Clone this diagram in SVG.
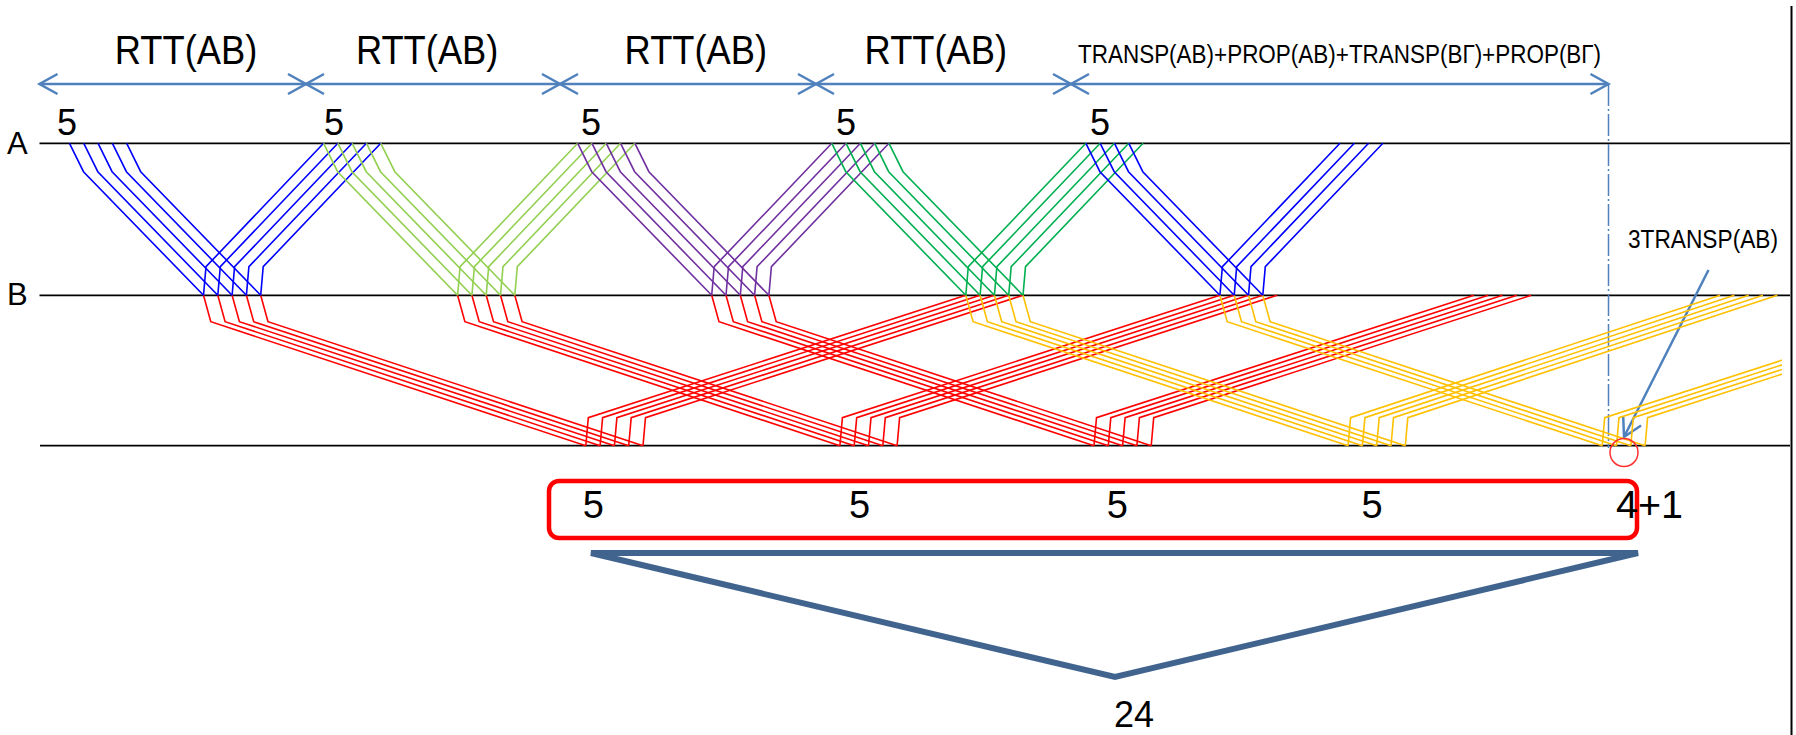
<svg xmlns="http://www.w3.org/2000/svg" xmlns:xlink="http://www.w3.org/1999/xlink" width="1796" height="735" viewBox="0 0 1796 735">
<style>
  text{font-family:"Liberation Sans",Arial,sans-serif;fill:#000}
  .ax{stroke:#000;stroke-width:1.8}
  .pk{fill:none;stroke-width:1.6;stroke-linejoin:miter}
  .dim{stroke:#4F81BD;stroke-width:2.5;fill:none}
  .rtt{font-size:40px}
  .five{font-size:36px;text-anchor:middle}
  .cnt{font-size:38px;text-anchor:middle}
</style>
<defs>
  <marker id="chev" markerUnits="userSpaceOnUse" markerWidth="30" markerHeight="30" refX="0" refY="0" orient="auto-start-reverse" overflow="visible">
    <path d="M-18,-10 L0,0 L-18,10" fill="none" stroke="#4F81BD" stroke-width="2.5"/>
  </marker>
  <clipPath id="clipR"><rect x="0" y="0" width="1782" height="735"/></clipPath>
  <path id="dAB" class="pk" d="M0,0 L14,28.4 L134,152"/>
  <path id="aBA" class="pk" d="M0,0 L2.5,-28.6 L120.1,-152"/>
  <path id="dBG" class="pk" d="M0,0 L7.3,26.4 L382.3,150.4"/>
  <path id="aGB" class="pk" d="M0,0 L2.5,-28 L380,-150.4"/>
  <path id="aGBy" class="pk" d="M0,0 L2.5,-28 L372,-150.4"/>
  <g id="b5dAB"><use href="#dAB"/><use href="#dAB" x="14.3"/><use href="#dAB" x="28.6"/><use href="#dAB" x="42.9"/><use href="#dAB" x="57.2"/></g>
  <g id="b4dAB"><use href="#dAB"/><use href="#dAB" x="14.3"/><use href="#dAB" x="28.6"/><use href="#dAB" x="42.9"/></g>
  <g id="b5aBA"><use href="#aBA"/><use href="#aBA" x="14.3"/><use href="#aBA" x="28.6"/><use href="#aBA" x="42.9"/><use href="#aBA" x="57.2"/></g>
  <g id="b4aBA"><use href="#aBA"/><use href="#aBA" x="14.3"/><use href="#aBA" x="28.6"/><use href="#aBA" x="42.9"/></g>
  <g id="b5dBG"><use href="#dBG"/><use href="#dBG" x="14.3"/><use href="#dBG" x="28.6"/><use href="#dBG" x="42.9"/><use href="#dBG" x="57.2"/></g>
  <g id="b4dBG"><use href="#dBG"/><use href="#dBG" x="14.3"/><use href="#dBG" x="28.6"/><use href="#dBG" x="42.9"/></g>
  <g id="b5aGB"><use href="#aGB"/><use href="#aGB" x="14.3"/><use href="#aGB" x="28.6"/><use href="#aGB" x="42.9"/><use href="#aGB" x="57.2"/></g>
  <g id="b5aGBy"><use href="#aGBy"/><use href="#aGBy" x="14.3"/><use href="#aGBy" x="28.6"/><use href="#aGBy" x="42.9"/><use href="#aGBy" x="57.2"/></g>
  <g id="b4aGB"><use href="#aGB"/><use href="#aGB" x="14.3"/><use href="#aGB" x="28.6"/><use href="#aGB" x="42.9"/></g>
</defs>

<g id="axes">
  <line class="ax" x1="39.5" y1="143.3" x2="1790" y2="143.3"/>
  <line class="ax" x1="39.5" y1="295.3" x2="1790" y2="295.3"/>
  <line class="ax" x1="40" y1="445.7" x2="1790" y2="445.7"/>
  <line x1="1791.5" y1="6" x2="1791.5" y2="735" stroke="#000" stroke-width="2"/>
  <text x="7" y="154" font-size="31">A</text>
  <text x="7" y="305" font-size="31">B</text>
</g>

<g id="timing-labels">
  <text class="rtt" x="114.8" y="64" textLength="142.5" lengthAdjust="spacingAndGlyphs">RTT(AB)</text>
  <text class="rtt" x="355.9" y="64" textLength="142.5" lengthAdjust="spacingAndGlyphs">RTT(AB)</text>
  <text class="rtt" x="624.6" y="64" textLength="142.5" lengthAdjust="spacingAndGlyphs">RTT(AB)</text>
  <text class="rtt" x="864.6" y="64" textLength="142.5" lengthAdjust="spacingAndGlyphs">RTT(AB)</text>
  <text x="1078" y="63" font-size="25" textLength="523" lengthAdjust="spacingAndGlyphs">TRANSP(AB)+PROP(AB)+TRANSP(BГ)+PROP(BГ)</text>
  <text class="five" x="67" y="135">5</text>
  <text class="five" x="334" y="135">5</text>
  <text class="five" x="591" y="135">5</text>
  <text class="five" x="846" y="135">5</text>
  <text class="five" x="1100" y="135">5</text>
</g>

<g id="connectors">
  <g id="dimension-arrows" class="dim">
    <line x1="39.5" y1="84" x2="306" y2="84" marker-start="url(#chev)" marker-end="url(#chev)"/>
    <line x1="306" y1="84" x2="560" y2="84" marker-start="url(#chev)" marker-end="url(#chev)"/>
    <line x1="560" y1="84" x2="816" y2="84" marker-start="url(#chev)" marker-end="url(#chev)"/>
    <line x1="816" y1="84" x2="1071" y2="84" marker-start="url(#chev)" marker-end="url(#chev)"/>
    <line x1="1071" y1="84" x2="1608.5" y2="84" marker-start="url(#chev)" marker-end="url(#chev)"/>
  </g>
  <line id="dashed-marker" x1="1608.5" y1="84" x2="1608.5" y2="448" stroke="#4F81BD" stroke-width="1.5" stroke-dasharray="22 3 2 3"/>
  <line id="pointer" class="dim" x1="1708.5" y1="270" x2="1624" y2="437" marker-end="url(#chev)"/>
</g>

<g id="link-BG">
  <g id="bg-red">
    <use href="#b5dBG" x="203.5" y="295.3" stroke="#FF0000"/>
    <use href="#b5dBG" x="457.6" y="295.3" stroke="#FF0000"/>
    <use href="#b5dBG" x="711.7" y="295.3" stroke="#FF0000"/>
    <use href="#b5aGB" x="585.8" y="445.7" stroke="#FF0000"/>
    <use href="#b5aGB" x="839.9" y="445.7" stroke="#FF0000"/>
    <use href="#b5aGB" x="1094" y="445.7" stroke="#FF0000"/>
  </g>
  <g id="bg-yellow" clip-path="url(#clipR)">
    <use href="#b5dBG" x="965.8" y="295.3" stroke="#FFC000"/>
    <use href="#b4dBG" x="1219.9" y="295.3" stroke="#FFC000"/>
    <use href="#b5aGBy" x="1348.1" y="445.7" stroke="#FFC000"/>
    <use href="#b4aGB" x="1602.2" y="445.7" stroke="#FFC000"/>
  </g>
</g>

<g id="group-blue-1">
  <use href="#b5dAB" x="69.5" y="143.3" stroke="#0000FF"/>
  <use href="#b5aBA" x="203.5" y="295.3" stroke="#0000FF"/>
</g>
<g id="group-lightgreen">
  <use href="#b5dAB" x="323.6" y="143.3" stroke="#92D050"/>
  <use href="#b5aBA" x="457.6" y="295.3" stroke="#92D050"/>
</g>
<g id="group-purple">
  <use href="#b5dAB" x="577.7" y="143.3" stroke="#7030A0"/>
  <use href="#b5aBA" x="711.7" y="295.3" stroke="#7030A0"/>
</g>
<g id="group-darkgreen">
  <use href="#b5dAB" x="831.8" y="143.3" stroke="#00B050"/>
  <use href="#b5aBA" x="965.8" y="295.3" stroke="#00B050"/>
</g>
<g id="group-blue-2">
  <use href="#b4dAB" x="1085.9" y="143.3" stroke="#0000FF"/>
  <use href="#b4aBA" x="1219.9" y="295.3" stroke="#0000FF"/>
</g>

<g id="note-3transp">
  <text x="1628" y="248" font-size="25" textLength="150" lengthAdjust="spacingAndGlyphs">3TRANSP(AB)</text>
  <circle cx="1624" cy="452.5" r="14" fill="none" stroke="#FF3030" stroke-width="1.5"/>
</g>

<g id="count-box">
  <rect x="549" y="481" width="1088" height="57" rx="10" fill="none" stroke="#FF0000" stroke-width="4.5"/>
  <text class="cnt" x="593.4" y="518">5</text>
  <text class="cnt" x="859.5" y="518">5</text>
  <text class="cnt" x="1117.4" y="518">5</text>
  <text class="cnt" x="1372" y="518">5</text>
  <text x="1616" y="518" font-size="38" textLength="67" lengthAdjust="spacingAndGlyphs">4+1</text>
</g>

<g id="total">
  <polygon points="591,553 1638,553 1115,677" fill="none" stroke="#41648F" stroke-width="6"/>
  <text x="1134" y="727" font-size="36" text-anchor="middle">24</text>
</g>
</svg>
